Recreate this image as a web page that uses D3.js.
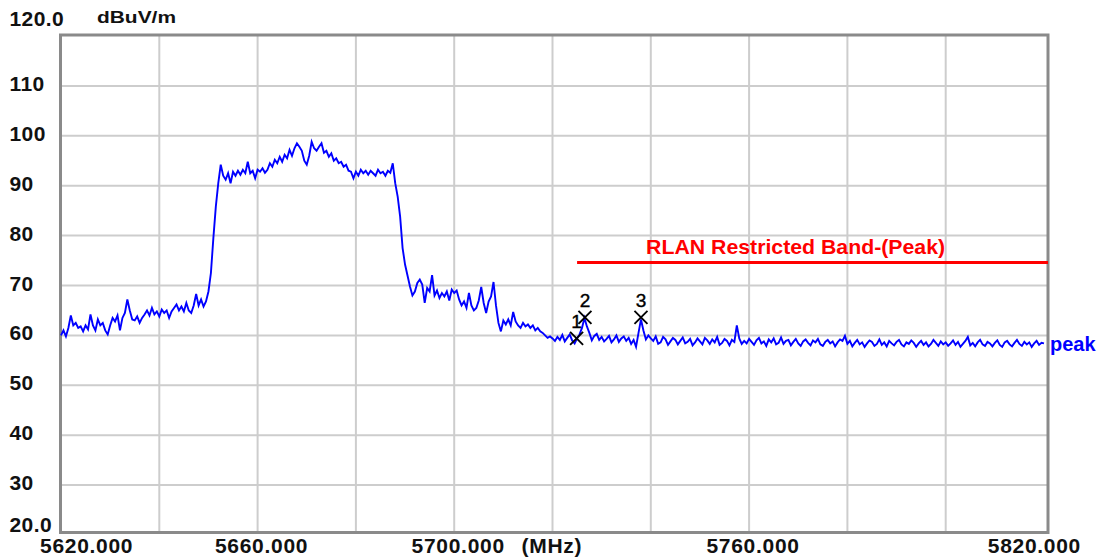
<!DOCTYPE html>
<html>
<head>
<meta charset="utf-8">
<script src="https://cdn.jsdelivr.net/npm/d3@7"></script>
<style>
  html, body { margin: 0; padding: 0; background: #ffffff; }
  svg { display: block; }
  text { font-family: "Liberation Sans", Arial, sans-serif; }
</style>
</head>
<body>
<div id="chart"></div>
<script>
// ---------------- data ----------------
const unitLabel = "dBuV/m";
const xUnitLabel = "(MHz)";
const traceName = "peak";
const limitLabel = "RLAN Restricted Band-(Peak)";

const xDomain = [5620, 5820];
const yDomain = [20, 120];
const xGridTicks = [5640, 5660, 5680, 5700, 5720, 5740, 5760, 5780, 5800];
const xLabelTicks = [5620, 5660, 5700, 5760, 5820];
const xTickLabels = ["5620.000", "5660.000", "5700.000", "5760.000", "5820.000"];
const yGridTicks = [30, 40, 50, 60, 70, 80, 90, 100, 110];
const yLabelTicks = [20, 30, 40, 50, 60, 70, 80, 90, 100, 110, 120];
const yTickLabels = ["20.0", "30", "40", "50", "60", "70", "80", "90", "100", "110", "120.0"];

// sweep: 5620 MHz to 5820 MHz, one reading every 0.5 MHz
const sweepStart = 5620;
const sweepStep = 0.5;
const peakTrace = [
  // 5620 - 5629.5
  60.0,61.0,59.8,61.5,64.0,62.0,62.5,61.5,61.8,60.8,62.0,61.2,64.2,62.0,61.0,63.2,62.0,62.5,61.0,60.2,
  // 5630 - 5639.5
  62.0,63.5,62.8,64.0,61.0,63.5,64.5,67.2,65.0,63.2,63.0,63.8,62.5,63.5,64.2,65.0,64.0,65.5,64.2,64.8,
  // 5640 - 5649.5
  63.8,65.2,64.5,65.0,63.5,64.8,65.5,66.2,65.0,65.8,64.8,66.5,65.0,64.5,66.0,68.3,66.0,67.2,65.8,66.8,
  // 5650 - 5659.5
  68.8,72.5,79.5,85.8,90.5,94.2,92.0,91.2,92.5,90.5,92.8,92.0,93.0,92.2,93.2,92.5,94.8,92.5,93.0,91.5,
  // 5660 - 5669.5
  93.2,92.8,93.5,92.6,93.2,94.5,93.8,95.2,94.5,95.8,94.8,96.2,95.5,97.2,96.0,97.5,98.5,97.8,97.0,95.0,
  // 5670 - 5679.5
  94.2,96.0,98.8,97.5,97.0,97.8,98.5,96.6,97.0,95.8,96.5,95.0,95.5,94.5,94.8,93.8,94.2,93.0,92.8,91.5,
  // 5680 - 5689.5
  92.8,92.0,93.2,92.5,93.0,92.2,93.0,92.5,92.0,93.2,92.5,92.8,92.0,93.0,92.6,94.5,90.5,87.8,83.8,77.5,
  // 5690 - 5699.5
  74.2,72.0,69.8,68.0,68.8,70.5,71.2,70.2,66.5,69.5,68.8,72.1,68.0,69.0,67.5,68.5,67.8,68.8,67.0,69.2,
  // 5700 - 5709.5
  68.5,69.0,67.2,66.0,66.8,65.5,68.5,66.0,65.0,65.5,67.0,69.7,66.5,64.5,66.8,67.8,70.7,66.0,62.5,60.8,
  // 5710 - 5719.5
  63.0,62.2,63.2,62.0,64.7,62.8,62.0,61.5,62.5,61.8,62.2,61.5,62.0,61.0,61.5,60.8,60.5,60.0,59.5,59.8,
  // 5720 - 5729.5
  59.4,58.9,59.7,59.1,60.1,58.8,59.5,60.2,59.0,58.4,59.4,60.2,61.5,63.5,61.8,60.5,59.0,59.9,60.3,59.1,
  // 5730 - 5739.5
  59.7,58.8,59.3,59.9,58.6,59.2,60.0,58.7,59.4,59.8,58.9,59.5,58.3,59.1,57.7,60.5,63.2,61.0,59.2,60.0,
  // 5740 - 5749.5
  59.4,58.9,59.8,58.3,58.6,59.7,59.2,58.1,58.8,59.5,59.1,58.2,58.9,59.6,58.4,58.7,59.3,58.0,58.6,59.4,
  // 5750 - 5759.5
  58.8,58.2,59.5,59.0,58.3,59.2,58.6,59.7,58.1,58.5,59.3,58.9,58.0,59.1,58.7,62.0,59.4,58.3,58.9,58.4,
  // 5760 - 5769.5
  59.3,58.7,58.1,59.0,59.5,58.4,58.8,57.9,59.2,58.6,59.4,58.2,58.5,59.6,58.3,58.9,59.1,58.0,58.7,59.3,
  // 5770 - 5779.5
  58.4,57.9,58.8,59.2,58.5,58.0,59.0,58.6,59.3,58.2,57.9,58.7,59.1,58.4,58.8,57.8,58.6,59.2,58.9,59.9,
  // 5780 - 5789.5
  58.3,58.9,57.8,58.5,59.1,58.2,58.6,57.7,58.4,59.0,58.7,57.9,58.3,59.2,58.1,58.6,57.8,58.9,58.4,58.0,
  // 5790 - 5799.5
  58.7,59.1,58.2,57.8,58.6,58.3,59.0,58.5,57.7,58.4,58.9,58.1,58.6,57.8,58.3,59.1,58.5,57.9,58.8,58.2,
  // 5800 - 5809.5
  58.6,57.9,58.4,59.0,58.1,58.7,57.7,58.3,58.9,59.7,58.0,58.5,57.8,58.6,59.1,58.2,57.9,58.7,58.4,57.8,
  // 5810 - 5819.5
  58.5,59.0,58.1,57.7,58.6,58.9,58.2,57.8,58.5,59.1,58.3,57.9,58.7,58.2,58.6,57.7,58.4,58.9,58.1,58.5,
  // 5820
  58.4
];

// limit line (restricted band, peak)
const limitStart = 5725;
const limitEnd = 5820;
const limitValue = 74.6;

// markers
const markerIds = ["1", "2", "3"];
const markerFreqs = [5724.9, 5726.6, 5738.0];
const markerValues = [59.4, 63.6, 63.6];

// ---------------- drawing ----------------
const W = 1102, H = 559;
const svg = d3.select("#chart").append("svg")
  .attr("width", W).attr("height", H)
  .style("background", "#ffffff");

const x = d3.scaleLinear().domain(xDomain).range([61, 1044]);
const y = d3.scaleLinear().domain(yDomain).range([535, 36]);

const gridColor = "#cdcdcd";
const frameColor = "#8a8a8a";

// grid
svg.append("g").selectAll("line.vg").data(xGridTicks).join("line")
  .attr("x1", d => x(d)).attr("x2", d => x(d))
  .attr("y1", y(120) - 1).attr("y2", y(20) - 2)
  .attr("stroke", gridColor).attr("stroke-width", 2);

svg.append("g").selectAll("line.hg").data(yGridTicks).join("line")
  .attr("x1", x(xDomain[0])).attr("x2", x(xDomain[1]) + 4)
  .attr("y1", d => y(d)).attr("y2", d => y(d))
  .attr("stroke", gridColor).attr("stroke-width", 2);

// frame
svg.append("rect")
  .attr("x", x(xDomain[0]) - 0.5)
  .attr("y", y(120) - 1)
  .attr("width", (x(xDomain[1]) + 4) - (x(xDomain[0]) - 0.5))
  .attr("height", (y(20) - 2.5) - (y(120) - 1))
  .attr("fill", "none")
  .attr("stroke", frameColor)
  .attr("stroke-width", 3);

// limit line
svg.append("line")
  .attr("x1", x(limitStart)).attr("x2", x(limitEnd) + 4)
  .attr("y1", y(limitValue)).attr("y2", y(limitValue))
  .attr("stroke", "#ff0000").attr("stroke-width", 3);

svg.append("text")
  .attr("x", x(limitStart) + 69)
  .attr("y", y(limitValue) - 9)
  .attr("fill", "#ff0000")
  .attr("font-size", 21)
  .attr("font-weight", "bold")
  .attr("textLength", 299)
  .attr("lengthAdjust", "spacingAndGlyphs")
  .text(limitLabel);

// trace
const traceData = peakTrace.map((v, i) => ({ f: sweepStart + i * sweepStep, v }));
const line = d3.line().x(d => x(d.f)).y(d => y(d.v));
svg.append("path")
  .datum(traceData)
  .attr("d", line)
  .attr("fill", "none")
  .attr("stroke", "#0000ff")
  .attr("stroke-width", 1.9)
  .attr("stroke-linejoin", "miter");

svg.append("text")
  .attr("x", x(xDomain[1]) + 6)
  .attr("y", y(peakTrace[peakTrace.length - 1]) + 8)
  .attr("fill", "#0000ff")
  .attr("font-size", 20)
  .attr("font-weight", "bold")
  .text(traceName);

// markers
const markers = markerIds.map((id, i) => ({ id, f: markerFreqs[i], v: markerValues[i] }));
const mg = svg.append("g").selectAll("g").data(markers).join("g")
  .attr("transform", d => `translate(${x(d.f)},${y(d.v)})`);
const s = 6.5;
mg.append("line").attr("x1", -s).attr("y1", -s).attr("x2", s).attr("y2", s)
  .attr("stroke", "#000").attr("stroke-width", 1.9);
mg.append("line").attr("x1", -s).attr("y1", s).attr("x2", s).attr("y2", -s)
  .attr("stroke", "#000").attr("stroke-width", 1.9);
mg.append("text")
  .attr("x", 0).attr("y", -10.5)
  .attr("text-anchor", "middle")
  .attr("font-size", 19)
  .attr("fill", "#000")
  .attr("stroke", "#000")
  .attr("stroke-width", 0.4)
  .text(d => d.id);

// y labels
svg.append("g").selectAll("text").data(yLabelTicks).join("text")
  .attr("x", 9.5)
  .attr("y", d => d === 120 ? y(d) - 10 : (d === 20 ? y(d) - 3 : y(d) + 5))
  .attr("font-size", 21)
  .attr("font-weight", "bold")
  .attr("letter-spacing", 0.4)
  .attr("fill", "#111")
  .text((d, i) => yTickLabels[i]);

// unit label
svg.append("text")
  .attr("x", 97).attr("y", 23)
  .attr("font-size", 17)
  .attr("font-weight", "bold")
  .attr("fill", "#111")
  .attr("textLength", 79)
  .attr("lengthAdjust", "spacingAndGlyphs")
  .text(unitLabel);

// x labels
const nX = xLabelTicks.length;
svg.append("g").selectAll("text").data(xLabelTicks).join("text")
  .attr("x", (d, i) => i === 0 ? x(d) - 21 : (i === nX - 1 ? x(d) + 37 : x(d) + 4))
  .attr("y", 552.5)
  .attr("text-anchor", (d, i) => i === 0 ? "start" : (i === nX - 1 ? "end" : "middle"))
  .attr("font-size", 21)
  .attr("font-weight", "bold")
  .attr("letter-spacing", 0.7)
  .attr("fill", "#111")
  .text((d, i) => xTickLabels[i]);

svg.append("text")
  .attr("x", 521.5).attr("y", 552.5)
  .attr("font-size", 21)
  .attr("font-weight", "bold")
  .attr("letter-spacing", 0.7)
  .attr("fill", "#111")
  .text(xUnitLabel);
</script>
</body>
</html>
